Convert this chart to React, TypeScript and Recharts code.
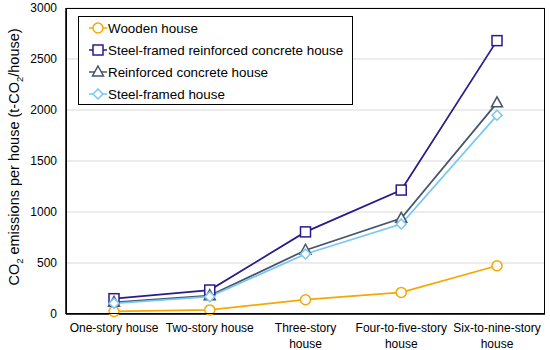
import React from 'react';
import { LineChart, Line, XAxis, YAxis, CartesianGrid } from 'recharts';

const categories = [
  'One-story house',
  'Two-story house',
  'Three-story house',
  'Four-to-five-story house',
  'Six-to-nine-story house',
];
const wooden = [25, 40, 140, 212, 473];
const steelRC = [150, 235, 805, 1215, 2680];
const rc = [115, 180, 625, 938, 2070];
const steelFramed = [105, 170, 588, 882, 1948];
const yTicks = [0, 500, 1000, 1500, 2000, 2500, 3000];

const data = categories.map((name, i) => ({
  name,
  wooden: wooden[i],
  steelRC: steelRC[i],
  rc: rc[i],
  steelFramed: steelFramed[i],
}));

const series = [
  { key: 'wooden', label: 'Wooden house', color: '#F7A700', shape: 'circle' },
  { key: 'steelRC', label: 'Steel-framed reinforced concrete house', color: '#2A1B8C', shape: 'square' },
  { key: 'rc', label: 'Reinforced concrete house', color: '#44546A', shape: 'triangle' },
  { key: 'steelFramed', label: 'Steel-framed house', color: '#79C7F2', shape: 'diamond' },
];

const FONT = '"Liberation Sans", Arial, sans-serif';

function Marker({ cx, cy, shape, color }: { cx: number; cy: number; shape: string; color: string }) {
  if (cx == null || cy == null) return null;
  const common = { fill: '#fff', stroke: color, strokeWidth: 1.5 };
  if (shape === 'circle') return <circle cx={cx} cy={cy} r={5} {...common} />;
  if (shape === 'square') return <rect x={cx - 5} y={cy - 5} width={10} height={10} {...common} />;
  if (shape === 'triangle')
    return <polygon points={`${cx},${cy - 6} ${cx + 5.5},${cy + 4} ${cx - 5.5},${cy + 4}`} {...common} />;
  return <polygon points={`${cx},${cy - 5} ${cx + 5},${cy} ${cx},${cy + 5} ${cx - 5},${cy}`} {...common} />;
}

function CategoryTick({ x, y, payload }: any) {
  const words = String(payload.value);
  const lines = words === 'One-story house' || words === 'Two-story house'
    ? [words]
    : [words.replace(/ house$/, ''), 'house'];
  return (
    <text x={x} y={y} textAnchor="middle" fill="#000" fontSize={12} fontFamily={FONT}>
      {lines.map((l, i) => (
        <tspan key={i} x={x} dy={i === 0 ? 10 : 15.5}>
          {l}
        </tspan>
      ))}
    </text>
  );
}

function YLabel() {
  return (
    <text
      x={0}
      y={0}
      transform="translate(18.5,157) rotate(-90)"
      textAnchor="middle"
      fontSize={14.5}
      fontFamily={FONT}
      fill="#000"
    >
      CO<tspan fontSize={9.5} dy={4}>2</tspan>
      <tspan dy={-4}> emissions per house (t-CO</tspan>
      <tspan fontSize={9.5} dy={4}>2</tspan>
      <tspan dy={-4}>/house)</tspan>
    </text>
  );
}

function LegendBox() {
  return (
    <div
      style={{
        position: 'absolute',
        left: 78,
        top: 16,
        border: '1.5px solid #000',
        background: '#fff',
        width: 275,
        height: 89,
        boxSizing: 'border-box',
        padding: '0 0 0 10px',
        fontFamily: FONT,
        fontSize: 13.4,
        color: '#000',
      }}
    >
      {series.map((s) => (
        <div key={s.key} style={{ display: 'flex', alignItems: 'center', height: 22 }}>
          <svg width={18} height={14} style={{ marginRight: 1 }}>
            <line x1={0} y1={7} x2={18} y2={7} stroke={s.color} strokeWidth={1.5} />
            <Marker cx={9} cy={7} shape={s.shape} color={s.color} />
          </svg>
          <span>{s.label}</span>
        </div>
      ))}
    </div>
  );
}

export default function App() {
  return (
    <div style={{ position: 'absolute', left: 0, top: 0, width: 550, height: 350, background: '#fff' }}>
      <LineChart
        width={550}
        height={350}
        data={data}
        margin={{ top: 8, right: 5, left: 0, bottom: 0 }}
      >
        <CartesianGrid stroke="#D9D9D9" vertical={false} />
        <XAxis
          dataKey="name"
          height={36}
          interval={0}
          padding={{ left: 48, right: 48 }}
          tickLine={false}
          axisLine={{ stroke: '#000', strokeWidth: 1.5 }}
          tick={<CategoryTick />}
        />
        <YAxis
          width={66}
          domain={[0, 3000]}
          ticks={yTicks}
          tickLine={false}
          tickSize={0}
          tickMargin={9}
          axisLine={{ stroke: '#000', strokeWidth: 1.5 }}
          tick={{ fill: '#000', fontSize: 12, fontFamily: FONT }}
          label={<YLabel />}
        />
        {series.map((s) => (
          <Line
            key={s.key}
            type="linear"
            dataKey={s.key}
            stroke={s.color}
            strokeWidth={1.75}
            isAnimationActive={false}
            dot={(p: any) => <Marker key={p.index} cx={p.cx} cy={p.cy} shape={s.shape} color={s.color} />}
            activeDot={false}
          />
        ))}
      </LineChart>
      <div
        style={{
          position: 'absolute',
          left: 66,
          top: 8,
          width: 479,
          height: 306,
          border: '1.5px solid #000',
          boxSizing: 'border-box',
          pointerEvents: 'none',
        }}
      />
      <LegendBox />
    </div>
  );
}
